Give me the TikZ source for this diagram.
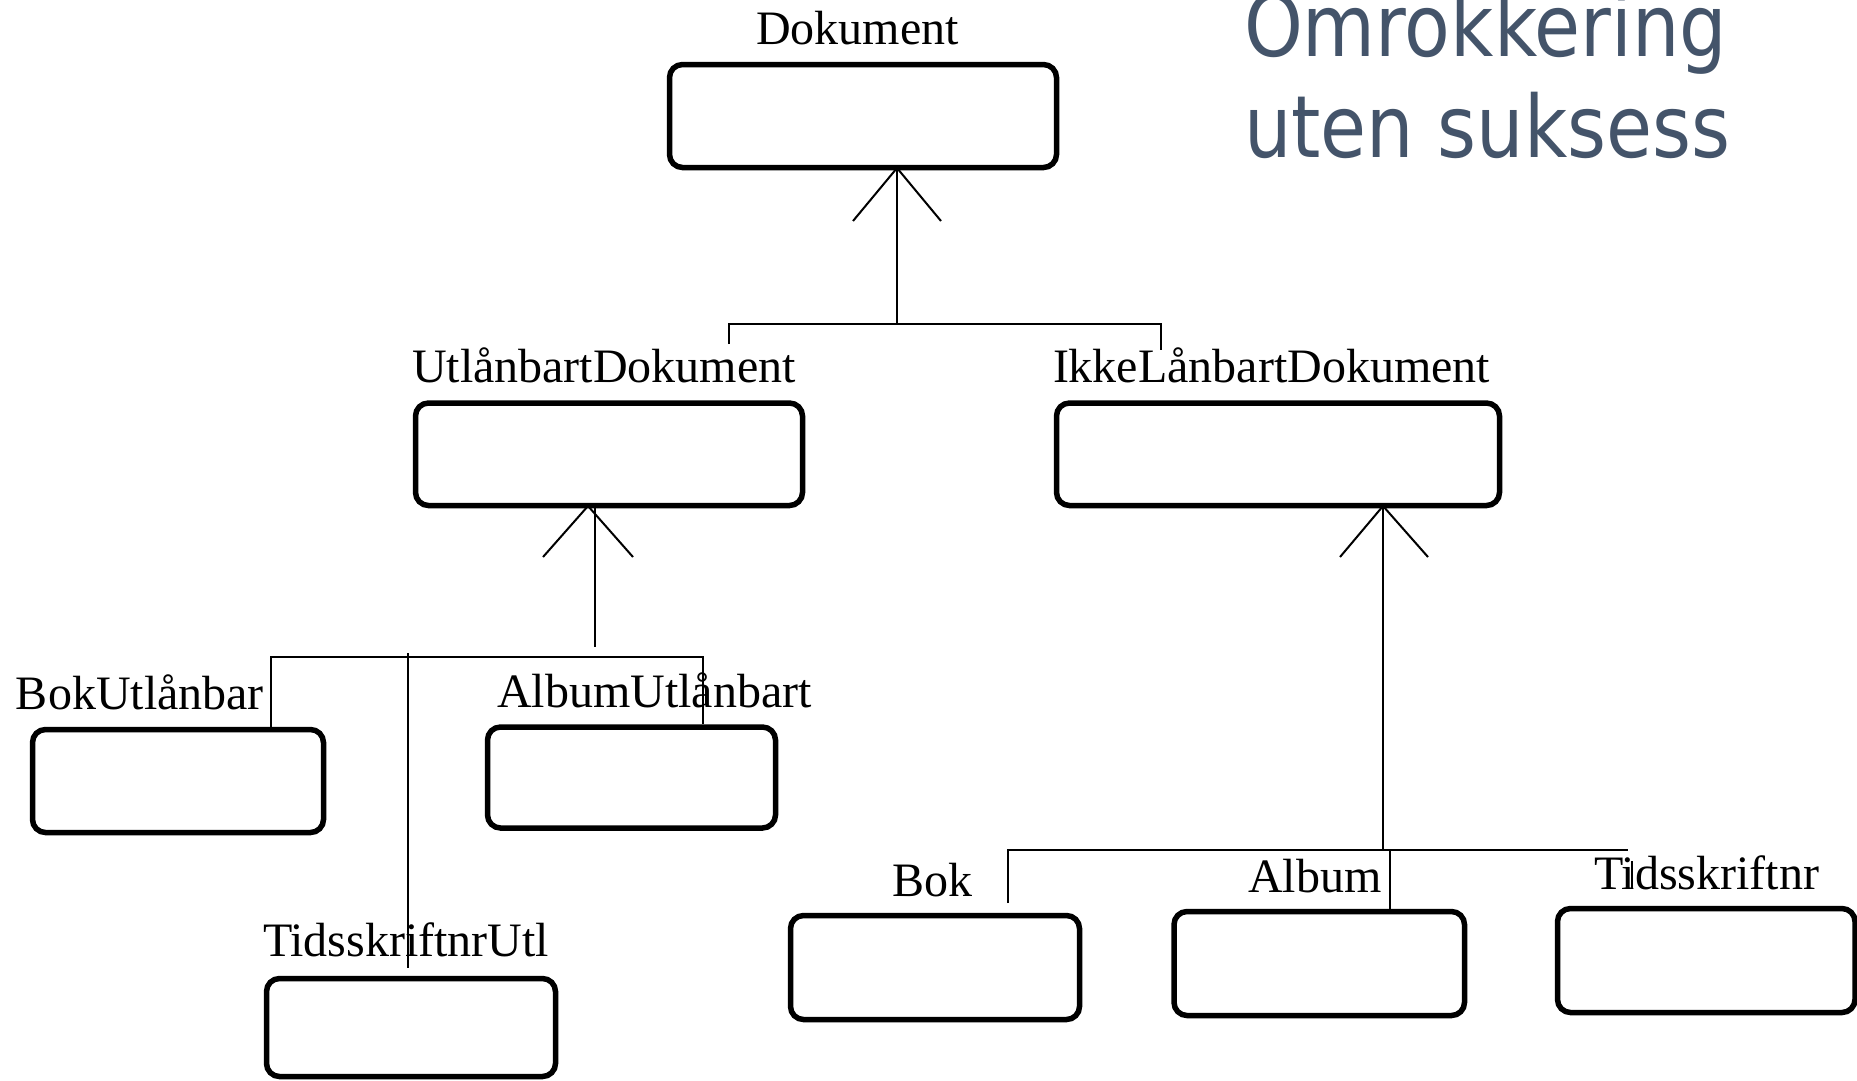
\documentclass[tikz,border=0pt]{standalone}
\usepackage{fontspec}
\setmainfont{Liberation Serif}
\newfontfamily\titlefont[FakeStretch=0.87]{DejaVu Sans}
\definecolor{titleblue}{RGB}{68,84,106}

\begin{document}
\begin{tikzpicture}[x=1pt,y=-1pt,
  classbox/.style={draw=black, line width=5.5pt, rounded corners=13pt, inner sep=0pt, outer sep=0pt},
  lbl/.style={anchor=base west, inner sep=0pt, outer sep=0pt, font=\fontsize{48}{58}\selectfont},
  ttl/.style={anchor=base west, inner sep=0pt, outer sep=0pt, text=titleblue, font=\titlefont\fontsize{86}{101}\selectfont},
  link/.style={draw=black, line width=2pt},
  wing/.style={draw=black, line width=2pt, line join=miter}]

\useasboundingbox (0,0) rectangle (1857,1080);
\clip (0,0) rectangle (1857,1080);

% heading
\node[ttl] (title1) at (1244,56) {Omrokkering};
\node[ttl] (title2) at (1244,157) {uten suksess};

% class boxes
\node[classbox, minimum width=387pt, minimum height=103pt]   (dok)    at (863,116) {};
\node[classbox, minimum width=387pt, minimum height=102.5pt] (utl)    at (609,454.25) {};
\node[classbox, minimum width=443pt, minimum height=102.5pt] (ikke)   at (1278,454.25) {};
\node[classbox, minimum width=291pt, minimum height=103pt]   (bokutl) at (178,781) {};
\node[classbox, minimum width=288pt, minimum height=101pt]   (albutl) at (631.5,777.5) {};
\node[classbox, minimum width=289pt, minimum height=98pt]    (tidutl) at (411,1027.5) {};
\node[classbox, minimum width=289pt, minimum height=104pt]   (bok)    at (935,967.5) {};
\node[classbox, minimum width=290.5pt, minimum height=104pt] (album)  at (1319.25,963.5) {};
\node[classbox, minimum width=297.5pt, minimum height=104pt] (tid)    at (1706.25,960.5) {};

% class names
\node[lbl] (dokL)    at (756,44)   {Dokument};
\node[lbl] (utlL)    at (412,382)  {UtlånbartDokument};
\node[lbl] (ikkeL)   at (1053,382) {IkkeLånbartDokument};
\node[lbl] (bokutlL) at (16,709)   {BokUtlånbar};
\node[lbl] (albutlL) at (497,707)  {AlbumUtlånbart};
\node[lbl] (tidutlL) at (263,956)  {TidsskriftnrUtl};
\node[lbl] (bokL)    at (892,896)  {Bok};
\node[lbl] (albumL)  at (1248,892) {Album};
\node[lbl] (tidL)    at (1594,889) {Tidsskriftnr};

% --- Dokument generalisation ---
\coordinate (tipA) at (897,168);
\coordinate (wA1) at (853,221);
\coordinate (wA2) at (941,221);
\coordinate (jA) at (897,324);
\coordinate (barA1) at (729,324);
\coordinate (barA2) at (1161,324);
\coordinate (dropA1) at (729,344);
\coordinate (dropA2) at (1161,350);
\path[wing] (wA1) -- (tipA) -- (wA2);
\path[link] (tipA) -- (jA);
\path[link] (dropA1) -- (barA1) -- (barA2) -- (dropA2);

% --- UtlånbartDokument generalisation ---
\coordinate (tipB) at (588,506);
\coordinate (wB1) at (543,557);
\coordinate (wB2) at (633,557);
\coordinate (stemB1) at (595,507);
\coordinate (stemB2) at (595,647);
\coordinate (barB1) at (271,657);
\coordinate (barB2) at (703,657);
\coordinate (dropB1) at (271,727);
\coordinate (dropB2) at (703,724);
\coordinate (longB1) at (408,653);
\coordinate (longB2) at (408,968);
\path[wing] (wB1) -- (tipB) -- (wB2);
\path[link] (stemB1) -- (stemB2);
\path[link] (dropB1) -- (barB1) -- (barB2) -- (dropB2);
\path[link] (longB1) -- (longB2);

% --- IkkeLånbartDokument generalisation ---
\coordinate (tipC) at (1383,506);
\coordinate (wC1) at (1340,557);
\coordinate (wC2) at (1428,557);
\coordinate (jC) at (1383,850);
\coordinate (barC1) at (1008,850);
\coordinate (barC2) at (1628,850);
\coordinate (dropC1) at (1008,903);
\coordinate (midC1) at (1390,850);
\coordinate (midC2) at (1390,911);
\coordinate (tickC1) at (1632,861);
\coordinate (tickC2) at (1632,889);
\path[wing] (wC1) -- (tipC) -- (wC2);
\path[link] (tipC) -- (jC);
\path[link] (dropC1) -- (barC1) -- (barC2);
\path[link] (midC1) -- (midC2);
\path[link] (tickC1) -- (tickC2);

\end{tikzpicture}
\end{document}
